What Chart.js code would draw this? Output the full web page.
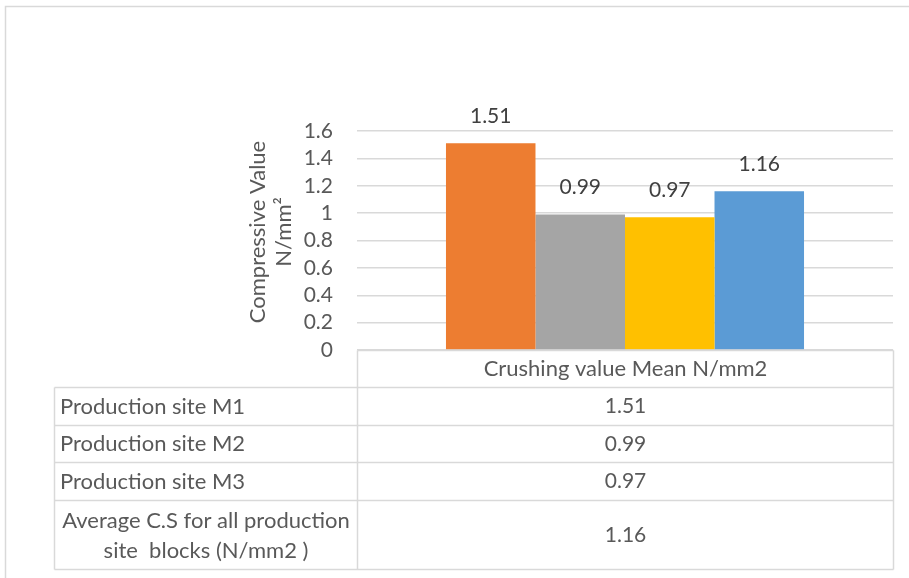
<!DOCTYPE html>
<html>
<head>
<meta charset="utf-8">
<script src="https://cdn.jsdelivr.net/npm/chart.js@4.4.1/dist/chart.umd.min.js"></script>
<style>
  html,body{margin:0;padding:0;background:#fff;}
  #wrap{position:absolute;left:0;top:0;width:909px;height:578px;}
</style>
</head>
<body>
<div id="wrap"><canvas id="c" width="909" height="578"></canvas></div>
<script>
const categories = ['Crushing value Mean N/mm2'];
const seriesNames = ['Production site M1', 'Production site M2', 'Production site M3', 'Average C.S for all production site  blocks (N/mm2 )'];
const seriesTableLines = [['Production site M1'], ['Production site M2'], ['Production site M3'], ['Average C.S for all production', 'site  blocks (N/mm2 )']];
const valuesM1 = [1.51];
const valuesM2 = [0.99];
const valuesM3 = [0.97];
const valuesAvg = [1.16];
const yTicks = [0, 0.2, 0.4, 0.6, 0.8, 1, 1.2, 1.4, 1.6];
const colors = ['#ED7D31', '#A5A5A5', '#FFC000', '#5B9BD5'];
const allValues = [valuesM1, valuesM2, valuesM3, valuesAvg];

const FONT = 'Lato, "Open Sans", sans-serif';
const FS_NUM = 21;
const FS_TXT = 22;

const overlay = {
  id: 'overlay',
  afterDraw(chart) {
    const ctx = chart.ctx;
    const ca = chart.chartArea;
    ctx.save();
    // outer frame
    ctx.strokeStyle = '#d9d9d9';
    ctx.lineWidth = 1.5;
    ctx.beginPath();
    ctx.moveTo(5.5, 578); ctx.lineTo(5.5, 6.5); ctx.lineTo(909, 6.5);
    ctx.stroke();

    // data labels
    ctx.fillStyle = '#404040';
    ctx.font = FS_NUM + 'px ' + FONT;
    ctx.textAlign = 'center';
    ctx.textBaseline = 'middle';
    chart.data.datasets.forEach((ds, i) => {
      const meta = chart.getDatasetMeta(i);
      meta.data.forEach((bar, j) => {
        ctx.fillText(ds.data[j].toFixed(2), bar.x, bar.y - 27);
      });
    });

    // y-axis title
    ctx.fillStyle = '#595959';
    ctx.font = FS_TXT + 'px ' + FONT;
    ctx.save();
    ctx.translate(258, 232);
    ctx.rotate(-Math.PI / 2);
    ctx.fillText('Compressive Value', 0, 0);
    ctx.restore();
    ctx.save();
    ctx.translate(284, 232);
    ctx.rotate(-Math.PI / 2);
    ctx.fillText('N/mm\u00B2', 0, 0);
    ctx.restore();

    // data table
    const left = 54.5, mid = Math.round(ca.left) + 0.5, right = Math.round(ca.right) + 0.5;
    const rows = [Math.round(ca.bottom) + 0.5, 387.5, 425.5, 462.5, 500.5, 569.5];
    ctx.strokeStyle = '#d9d9d9';
    ctx.lineWidth = 1.5;
    ctx.beginPath();
    ctx.moveTo(mid, rows[0]); ctx.lineTo(right, rows[0]);
    ctx.moveTo(mid, rows[0]); ctx.lineTo(mid, rows[5]);
    ctx.moveTo(right, rows[0]); ctx.lineTo(right, rows[5]);
    for (let r = 1; r < rows.length; r++) {
      ctx.moveTo(left, rows[r]); ctx.lineTo(right, rows[r]);
    }
    ctx.moveTo(left, rows[1]); ctx.lineTo(left, rows[5]);
    ctx.stroke();

    ctx.fillStyle = '#595959';
    ctx.textBaseline = 'middle';
    ctx.textAlign = 'center';
    const cx = (mid + right) / 2;
    ctx.font = FS_TXT + 'px ' + FONT;
    ctx.fillText(chart.data.labels[0], cx, (rows[0] + rows[1]) / 2);
    for (let i = 0; i < seriesTableLines.length; i++) {
      const yc = (rows[i + 1] + rows[i + 2]) / 2;
      const lines = seriesTableLines[i];
      ctx.font = FS_TXT + 'px ' + FONT;
      if (lines.length === 1) {
        ctx.textAlign = 'left';
        ctx.fillText(lines[0], 60, yc);
      } else {
        ctx.textAlign = 'center';
        const lcx = (left + mid) / 2;
        ctx.fillText(lines[0], lcx, yc - 14);
        ctx.fillText(lines[1], lcx, yc + 16);
      }
      ctx.textAlign = 'center';
      ctx.font = FS_NUM + 'px ' + FONT;
      ctx.fillText(chart.data.datasets[i].data[0].toFixed(2), cx, yc);
    }
    ctx.restore();
  }
};

new Chart(document.getElementById('c'), {
  type: 'bar',
  data: {
    labels: categories,
    datasets: seriesNames.map((n, i) => ({
      label: n,
      data: allValues[i],
      backgroundColor: colors[i],
      borderWidth: 0,
      categoryPercentage: 0.668,
      barPercentage: 1.0
    }))
  },
  options: {
    responsive: false,
    animation: false,
    devicePixelRatio: 1,
    layout: { padding: { left: 0, top: 131, right: 16, bottom: 228 } },
    plugins: { legend: { display: false }, tooltip: { enabled: false } },
    scales: {
      x: { display: false },
      y: {
        min: 0, max: 1.6,
        afterFit(scale) { scale.width = 357; },
        afterBuildTicks(scale) { scale.ticks = yTicks.map(v => ({ value: v })); },
        border: { display: false },
        grid: { color: '#d9d9d9', lineWidth: 1.5, drawTicks: false },
        ticks: {
          autoSkip: false,
          padding: 24,
          color: '#595959',
          font: { family: FONT, size: FS_NUM },
          callback: v => String(v)
        }
      }
    }
  },
  plugins: [overlay]
});
</script>
</body>
</html>
